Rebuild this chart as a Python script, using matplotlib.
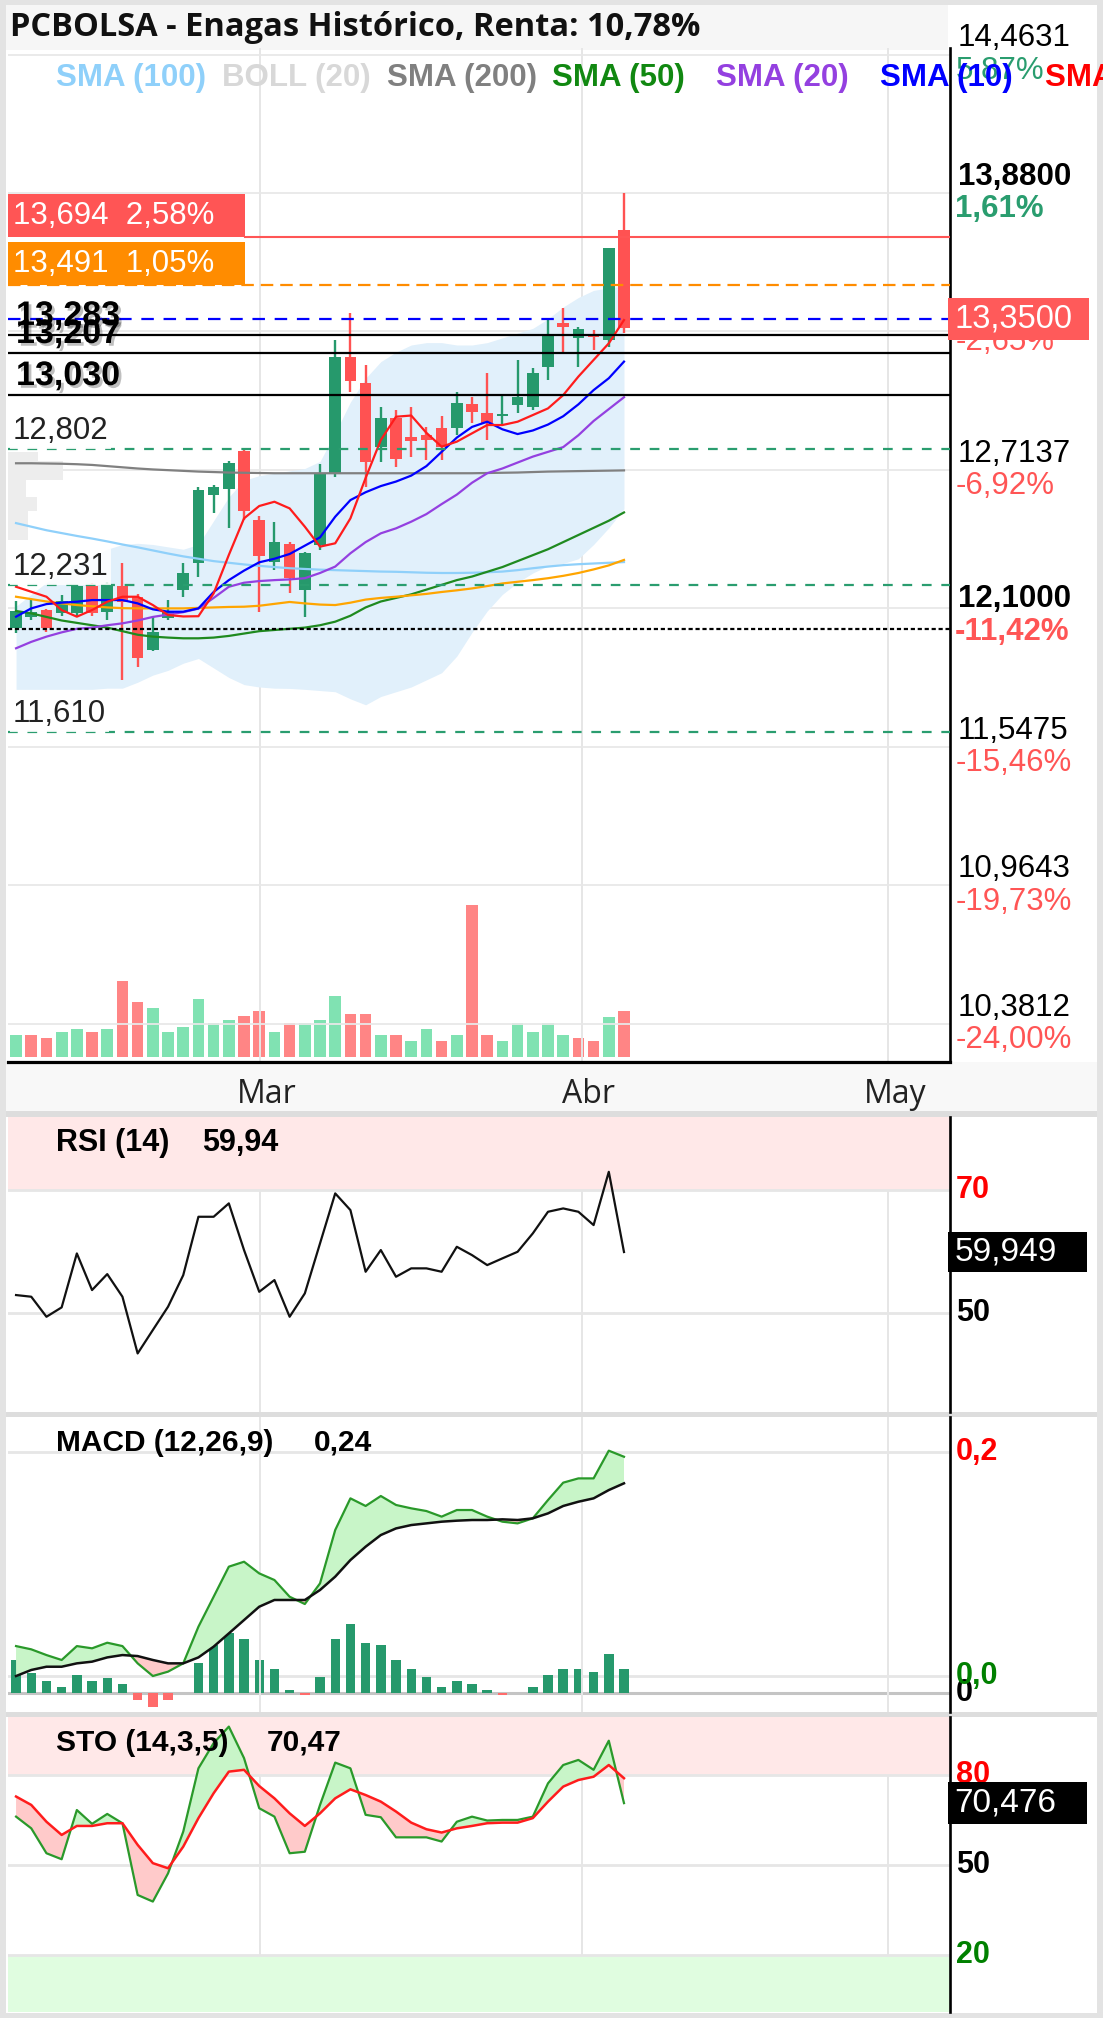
import matplotlib
matplotlib.use("Agg")
import matplotlib.pyplot as plt
import matplotlib.patheffects as pe
import matplotlib.transforms as mtransforms
from matplotlib.patches import Rectangle
import numpy as np

plt.rcParams['lines.scale_dashes'] = False

# ---------------- datos ----------------
opens = [12.047, 12.095, 12.124, 12.110, 12.110, 12.227, 12.117, 12.227, 12.180, 11.956,
         12.089, 12.208, 12.321, 12.608, 12.632, 12.794, 12.503, 12.328, 12.401, 12.208,
         12.398, 12.700, 13.188, 13.081, 12.812, 12.931, 12.854, 12.861, 12.892, 12.889,
         12.991, 12.955, 12.940, 12.987, 12.980, 13.149, 13.334, 13.268, 13.286, 13.261,
         13.724]
highs = [12.160, 12.166, 12.130, 12.187, 12.235, 12.237, 12.240, 12.321, 12.190, 12.096,
         12.166, 12.321, 12.640, 12.650, 12.750, 12.800, 12.520, 12.496, 12.410, 12.370,
         12.739, 13.261, 13.373, 13.156, 12.980, 12.966, 12.980, 12.896, 12.940, 13.043,
         13.022, 13.121, 13.025, 13.177, 13.142, 13.345, 13.394, 13.317, 13.303, 13.650,
         13.879]
lows = [12.026, 12.082, 12.030, 12.100, 12.100, 12.100, 12.082, 11.830, 11.886, 11.950,
        12.082, 12.180, 12.265, 12.531, 12.468, 12.503, 12.117, 12.293, 12.194, 12.096,
        12.377, 12.686, 13.044, 12.644, 12.749, 12.728, 12.770, 12.756, 12.756, 12.861,
        12.910, 12.840, 12.903, 12.952, 12.966, 13.093, 13.205, 13.149, 13.219, 13.233,
        13.290]
closes = [12.121, 12.115, 12.047, 12.160, 12.227, 12.110, 12.232, 12.159, 11.921, 12.033,
          12.117, 12.279, 12.630, 12.641, 12.742, 12.542, 12.352, 12.412, 12.260, 12.363,
          12.700, 13.191, 13.090, 12.746, 12.931, 12.760, 12.837, 12.840, 12.812, 12.994,
          12.959, 12.913, 12.950, 13.020, 13.121, 13.282, 13.317, 13.307, 13.275, 13.650,
          13.310]
# volumen en millones
volume = [1.30, 1.30, 1.10, 1.46, 1.66, 1.46, 1.66, 4.50, 3.26, 2.90,
          1.46, 1.80, 3.46, 2.00, 2.20, 2.40, 2.74, 1.46, 2.00, 2.00,
          2.20, 3.64, 2.54, 2.54, 1.30, 1.30, 0.94, 1.66, 0.94, 1.30,
          9.00, 1.30, 0.94, 2.00, 1.46, 2.00, 1.30, 1.10, 0.94, 2.36,
          2.74]

sma5 = [12.222, 12.201, 12.180, 12.124, 12.096, 12.124, 12.159, 12.180, 12.180, 12.145,
        12.103, 12.097, 12.098, 12.194, 12.356, 12.510, 12.562, 12.580, 12.552, 12.475,
        12.391, 12.405, 12.510, 12.680, 12.840, 12.938, 12.943, 12.870, 12.812, 12.833,
        12.868, 12.903, 12.903, 12.917, 12.945, 12.973, 13.029, 13.107, 13.177, 13.247,
        13.345]
sma10 = [12.096, 12.131, 12.149, 12.155, 12.159, 12.166, 12.166, 12.166, 12.152, 12.127,
         12.117, 12.117, 12.131, 12.200, 12.250, 12.290, 12.325, 12.340, 12.360, 12.395,
         12.430, 12.517, 12.587, 12.620, 12.646, 12.665, 12.690, 12.730, 12.790, 12.850,
         12.895, 12.917, 12.885, 12.865, 12.880, 12.905, 12.940, 12.990, 13.050, 13.100,
         13.170]
sma20 = [11.963, 11.990, 12.012, 12.030, 12.045, 12.050, 12.060, 12.068, 12.080, 12.095,
         12.105, 12.115, 12.130, 12.175, 12.222, 12.239, 12.246, 12.250, 12.253, 12.258,
         12.280, 12.307, 12.363, 12.410, 12.447, 12.468, 12.496, 12.528, 12.570, 12.610,
         12.660, 12.700, 12.720, 12.745, 12.770, 12.790, 12.810, 12.860, 12.920, 12.970,
         13.020]
sma50 = [12.120, 12.110, 12.095, 12.080, 12.070, 12.060, 12.050, 12.035, 12.020, 12.012,
         12.008, 12.005, 12.005, 12.008, 12.015, 12.025, 12.035, 12.040, 12.045, 12.050,
         12.060, 12.075, 12.100, 12.135, 12.160, 12.175, 12.190, 12.210, 12.230, 12.250,
         12.265, 12.285, 12.305, 12.330, 12.355, 12.380, 12.410, 12.440, 12.470, 12.500,
         12.535]
sma100 = [12.490, 12.475, 12.460, 12.448, 12.436, 12.425, 12.413, 12.400, 12.388, 12.375,
          12.362, 12.350, 12.340, 12.330, 12.323, 12.316, 12.310, 12.305, 12.300, 12.297,
          12.294, 12.292, 12.290, 12.288, 12.286, 12.285, 12.283, 12.281, 12.280, 12.280,
          12.281, 12.283, 12.286, 12.292, 12.300, 12.307, 12.313, 12.317, 12.320, 12.323,
          12.326]
sma200 = [12.742, 12.742, 12.741, 12.740, 12.738, 12.735, 12.730, 12.725, 12.720, 12.716,
          12.713, 12.710, 12.707, 12.705, 12.703, 12.702, 12.701, 12.700, 12.700, 12.700,
          12.700, 12.700, 12.700, 12.700, 12.700, 12.700, 12.700, 12.700, 12.700, 12.700,
          12.700, 12.701, 12.702, 12.703, 12.705, 12.707, 12.708, 12.709, 12.710, 12.711,
          12.712]
ma_orange = [12.180, 12.170, 12.160, 12.152, 12.145, 12.140, 12.135, 12.132, 12.131, 12.131,
             12.131, 12.131, 12.133, 12.135, 12.137, 12.138, 12.142, 12.150, 12.158, 12.152,
             12.147, 12.145, 12.155, 12.168, 12.175, 12.180, 12.186, 12.192, 12.200, 12.207,
             12.215, 12.225, 12.236, 12.243, 12.250, 12.258, 12.268, 12.280, 12.295, 12.312,
             12.335]
boll_up = [12.14, 12.19, 12.24, 12.28, 12.32, 12.35, 12.38, 12.40, 12.405, 12.40,
           12.39, 12.38, 12.40, 12.50, 12.60, 12.67, 12.69, 12.70, 12.71, 12.72,
           12.75, 12.87, 13.00, 13.10, 13.17, 13.21, 13.24, 13.25, 13.25, 13.24,
           13.24, 13.25, 13.27, 13.29, 13.31, 13.35, 13.40, 13.44, 13.47, 13.48,
           13.49]
boll_low = [11.79, 11.79, 11.79, 11.79, 11.79, 11.79, 11.795, 11.795, 11.82, 11.85,
            11.87, 11.90, 11.92, 11.88, 11.84, 11.81, 11.80, 11.795, 11.794, 11.79,
            11.785, 11.78, 11.75, 11.725, 11.76, 11.78, 11.80, 11.83, 11.86, 11.93,
            12.03, 12.12, 12.19, 12.24, 12.28, 12.31, 12.32, 12.34, 12.40, 12.47,
            12.55]

# perfil de volumen (gris a la izquierda)
vp_lo = [12.75, 12.67, 12.60, 12.54, 12.42]
vp_hi = [12.79, 12.75, 12.67, 12.60, 12.54]
vp_len = [2.0, 3.6, 1.2, 1.9, 1.3]

rsi = [52.97, 52.70, 49.45, 50.97, 59.72, 53.78, 56.37, 52.70, 43.50, 47.30,
       51.08, 56.20, 65.67, 65.67, 67.84, 60.27, 53.50, 55.40, 49.45, 53.24,
       61.35, 69.46, 66.75, 56.75, 60.27, 55.94, 57.30, 57.30, 56.75, 60.80,
       59.45, 57.83, 58.92, 59.99, 62.97, 66.48, 67.02, 66.48, 64.32, 72.96,
       59.95]
macd = [0.0267, 0.0238, 0.0187, 0.0143, 0.0267, 0.0247, 0.0297, 0.0267, 0.0113, 0.0000,
        0.0039, 0.0113, 0.0440, 0.0707, 0.0975, 0.1019, 0.0915, 0.0856, 0.0707, 0.0642,
        0.0826, 0.1302, 0.1584, 0.1516, 0.1605, 0.1525, 0.1495, 0.1471, 0.1421, 0.1480,
        0.1480, 0.1421, 0.1376, 0.1361, 0.1406, 0.1569, 0.1724, 0.1762, 0.1762, 0.2009,
        0.1955]
signal = [0.0000, 0.0054, 0.0083, 0.0083, 0.0113, 0.0128, 0.0166, 0.0187, 0.0178, 0.0143,
          0.0113, 0.0113, 0.0166, 0.0262, 0.0380, 0.0499, 0.0618, 0.0678, 0.0678, 0.0678,
          0.0767, 0.0886, 0.1034, 0.1153, 0.1257, 0.1316, 0.1346, 0.1361, 0.1376, 0.1385,
          0.1391, 0.1391, 0.1397, 0.1391, 0.1406, 0.1450, 0.1516, 0.1554, 0.1584, 0.1658,
          0.1718]
hist = [0.0297, 0.0178, 0.0110, 0.0053, 0.0163, 0.0110, 0.0140, 0.0083, -0.0059, -0.0119,
        -0.0059, 0.0004, 0.0267, 0.0431, 0.0541, 0.0481, 0.0297, 0.0214, 0.0030, -0.0015,
        0.0143, 0.0481, 0.0618, 0.0452, 0.0431, 0.0297, 0.0214, 0.0143, 0.0059, 0.0110,
        0.0083, 0.0030, -0.0015, 0.0004, 0.0059, 0.0163, 0.0220, 0.0220, 0.0190, 0.0351,
        0.0220]
sto_k = [66.1, 62.2, 53.9, 51.9, 68.3, 63.7, 67.0, 63.9, 40.0, 37.8,
         47.2, 61.1, 82.2, 90.6, 96.1, 85.6, 68.9, 66.1, 53.9, 54.4,
         70.0, 84.1, 82.2, 66.7, 65.9, 59.2, 59.2, 59.2, 57.8, 64.4,
         66.1, 64.8, 65.0, 65.0, 66.1, 77.2, 83.3, 85.0, 81.7, 91.4,
         70.6]
sto_d = [72.8, 70.0, 64.4, 60.0, 63.0, 63.0, 63.9, 63.9, 56.7, 50.6,
         48.9, 56.1, 65.6, 73.9, 81.1, 81.7, 76.3, 72.2, 67.2, 63.0,
         67.2, 72.2, 75.2, 73.3, 71.1, 67.8, 64.1, 61.9, 60.8, 62.2,
         63.0, 63.9, 64.1, 64.1, 65.6, 71.1, 76.1, 78.3, 79.4, 83.3,
         78.9]

month_labels = ['Mar', 'Abr', 'May']
month_x = [16.05, 37.24, 57.37]

grid_prices = [14.4631, 13.88, 13.2969, 12.7137, 12.1306, 11.5475, 10.9643, 10.3812]
axis_vals = [14.4631, 13.88, 12.7137, 12.1, 11.5475, 10.9643, 10.3812]
axis_pcts = ['5,87%', '1,61%', '-6,92%', '-11,42%', '-15,46%', '-19,73%', '-24,00%']
last_price, last_pct = 13.35, '-2,65%'

target_red, target_red_txt = 13.694, '13,694  2,58%'
target_orange, target_orange_txt = 13.491, '13,491  1,05%'
black_levels = [13.283, 13.207, 13.030]
green_levels = [12.802, 12.231, 11.610]
dotted_level = 12.045

legend_names = ['SMA (100)', 'BOLL (20)', 'SMA (200)', 'SMA (50)', 'SMA (20)', 'SMA (10)', 'SMA (5)']
title = 'PCBOLSA - Enagas Histórico, Renta: 10,78%'
rsi_last, macd_last, sto_last = '59,94', '0,24', '70,47'
rsi_box, sto_box = '59,949', '70,476'


def fmt(v, nd):
    return f"{v:.{nd}f}".replace('.', ',')


# ---------------- figura ----------------
W, H = 1103, 2018
fig = plt.figure(figsize=(W / 100, H / 100), dpi=100)
fig.patch.set_facecolor('#e3e3e3')


def fx(px):
    return px / W


def fy(py):
    return 1 - py / H


def frect(x0, y0, x1, y1, color, z=-5):
    fig.patches.append(Rectangle((fx(x0), fy(y1)), fx(x1) - fx(x0), fy(y0) - fy(y1),
                                 transform=fig.transFigure, facecolor=color,
                                 edgecolor='none', zorder=z))


frect(6, 5, 1097, 2013, 'white', -10)
frect(6, 5, 948, 50, '#f6f6f6', -9)
frect(6, 1062, 1097, 1111, '#f8f8f8', -9)
for y0 in (1111, 1411.7, 1711.7):
    frect(6, y0, 1097, y0 + 5.5, '#dddddd', -8)

L, R = 8, 950
XMIN, XMAX = -0.53, 61.45
x = np.arange(len(closes))


def add_ax(top, bottom):
    return fig.add_axes([fx(L), fy(bottom), fx(R) - fx(L), fy(top) - fy(bottom)])


def style(a):
    a.set_xlim(XMIN, XMAX)
    for s in a.spines.values():
        s.set_visible(False)
    a.spines['right'].set_visible(True)
    a.spines['right'].set_color('black')
    a.spines['right'].set_linewidth(1.9)
    a.tick_params(left=False, right=False, labelleft=False, labelright=False,
                  bottom=False, labelbottom=False)
    for m in month_x:
        a.axvline(m, color='#e6e6e6', lw=1.4, zorder=0)


GREEN = '#26996c'
RED = '#ff5252'
TXT_GREEN = '#2a9d6f'
TXT_RED = '#ff5555'
LAB = 22.5

# ---------------- panel principal ----------------
ax = add_ax(48, 1062)
ax_v = ax.twinx()
style(ax)
ax_v.set_xlim(XMIN, XMAX)
for s in ax_v.spines.values():
    s.set_visible(False)
ax_v.tick_params(right=False, labelright=False)
ax.set_zorder(ax_v.get_zorder() + 1)
ax.patch.set_visible(False)
ax.spines['bottom'].set_visible(True)
ax.spines['bottom'].set_color('black')
ax.spines['bottom'].set_linewidth(2.3)
ax.set_ylim(10.221, 14.4905)

vol_colors = ['#80e2b2'] + ['#80e2b2' if closes[i] >= closes[i - 1] else '#ff8585'
                            for i in range(1, len(closes))]
ax_v.set_ylim(-0.3, 59.8)
ax_v.bar(x, volume, width=0.77, color=vol_colors, lw=0)

for g in grid_prices:
    ax.axhline(g, color='#e8e8e8', lw=1.3, zorder=0)

ax.barh([(a + b) / 2 for a, b in zip(vp_lo, vp_hi)], vp_len,
        height=[b - a for a, b in zip(vp_lo, vp_hi)], left=XMIN,
        color='#ededed', lw=0, zorder=0.5)

ax.fill_between(x, boll_low, boll_up, color='#e1f0fb', lw=0, zorder=1)

ma_styles = [(sma100, '#8fd0fa'), (sma200, '#808080'), (sma50, '#1f8a1f'),
             (ma_orange, '#ffa500'), (sma20, '#9440e0'), (sma10, '#0000ff'), (sma5, '#ff1c1c')]

up = [c >= o for o, c in zip(opens, closes)]
ccol = [GREEN if u else RED for u in up]
ax.vlines(x, lows, highs, colors=ccol, lw=1.7, zorder=3)
body_lo = np.minimum(opens, closes)
body_h = np.maximum(np.abs(np.subtract(closes, opens)), 0.007)
ax.bar(x, body_h, bottom=body_lo, width=0.77, color=ccol, lw=0, zorder=3.1)

for vals, col in ma_styles:
    ax.plot(x, vals, color=col, lw=1.6, zorder=4)

blend = mtransforms.blended_transform_factory(ax.transAxes, ax.transData)
box_w = (245 - L) / (R - L)
box_h = 43 / 237.5

# objetivos (cajas roja y naranja)
ax.axhline(target_red, xmin=box_w, xmax=1, color=TXT_RED, lw=1.5, zorder=5)
ax.axhline(target_orange, color='#ff8c00', lw=1.6, dashes=(9, 5), zorder=5)
for val, txt, col in [(target_red, target_red_txt, '#ff5555'),
                      (target_orange, target_orange_txt, '#ff8c00')]:
    ax.add_patch(Rectangle((0, val), box_w, box_h, transform=blend,
                           facecolor=col, edgecolor='none', zorder=6))
    ax.text(0.005, val + box_h / 2, txt, transform=blend, color='white',
            fontsize=22.5, family='Liberation Sans', va='center', ha='left', zorder=7)

ax.axhline(last_price, color='#0000ff', lw=1.6, dashes=(9, 7), zorder=5)
for lv in black_levels:
    ax.axhline(lv, color='black', lw=1.6, zorder=5)
    ax.text(0.0085, lv + 0.012, fmt(lv, 3), transform=blend, fontsize=24.5,
            weight='bold', family='Liberation Sans', va='bottom', zorder=7,
            path_effects=[pe.SimplePatchShadow(offset=(2, -2), alpha=0.25), pe.Normal()])
for lv in green_levels:
    ax.axhline(lv, color=TXT_GREEN, lw=1.6, dashes=(7, 7), zorder=5)
    ax.text(0.005, lv + 0.012, fmt(lv, 3), transform=blend, fontsize=22.5,
            family='Liberation Sans', color='#222222', va='bottom', zorder=7,
            bbox=dict(facecolor='white', edgecolor='none', alpha=0.85, pad=2))
ax.axhline(dotted_level, color='black', lw=1.6, dashes=(3, 2), zorder=5)

# etiquetas del eje derecho
bold_vals = {13.88, 12.1}
for val, pct in zip(axis_vals, axis_pcts):
    w = 'bold' if val in bold_vals else 'normal'
    ax.annotate(fmt(val, 4), (1.0085, val), xycoords=blend, xytext=(0, 1),
                textcoords='offset points', va='bottom', ha='left', fontsize=LAB,
                family='Liberation Sans', weight=w, annotation_clip=False)
    ax.annotate(pct, (1.0085, val), xycoords=blend, xytext=(-2, -1),
                textcoords='offset points', va='top', ha='left', fontsize=LAB,
                family='Liberation Sans', weight=w,
                color=TXT_RED if pct.startswith('-') else TXT_GREEN, annotation_clip=False)

ax.annotate(last_pct, (1.0085, last_price), xycoords=blend, xytext=(-2, -6),
            textcoords='offset points', va='top', ha='left', fontsize=LAB,
            family='Liberation Sans', color=TXT_RED, annotation_clip=False)
ax.add_patch(Rectangle((0.998, last_price - 0.09), 0.15, 0.177, transform=blend,
                       facecolor='#ff5a5a', edgecolor='none', clip_on=False, zorder=8))
ax.text(1.005, last_price - 0.001, fmt(last_price, 4), transform=blend, color='white',
        fontsize=23.5, family='Liberation Sans', va='center', ha='left', zorder=9, clip_on=False)

ax.set_xticks(month_x, month_labels)
ax.tick_params(bottom=False, labelbottom=True, pad=8)
shift = mtransforms.ScaledTranslation(5 / 72, 0, fig.dpi_scale_trans)
for t in ax.get_xticklabels():
    t.set_fontfamily('Open Sans')
    t.set_fontsize(23)
    t.set_color('#222222')
    t.set_transform(t.get_transform() + shift)

# titulo y leyenda
fig.text(fx(10), fy(27), title, fontsize=23.5, family='Open Sans', weight='bold',
         va='center', ha='left', color='#111111')
legend_x = [56, 222, 387, 552, 716, 880, 1045]
legend_cols = ['#8fd0fa', '#d8d8d8', '#808080', '#118811', '#9440e0', '#0000ff', '#ff0000']
for lx, name, col in zip(legend_x, legend_names, legend_cols):
    fig.text(fx(lx), fy(78), name, fontsize=22.5, family='Liberation Sans', weight='bold',
             color=col, va='center', ha='left')

# ---------------- RSI ----------------
ax_r = add_ax(1116.7, 1411.7)
style(ax_r)
ax_r.set_ylim(34.05, 81.9)
ax_r.axhspan(70, 81.9, color='#ffe8e8', lw=0, zorder=0)
for g in (70, 50):
    ax_r.axhline(g, color='#e6e6e6', lw=2, zorder=0.5)
ax_r.plot(x, rsi, color='#111111', lw=1.6, zorder=3)
rb = mtransforms.blended_transform_factory(ax_r.transAxes, ax_r.transData)
ax_r.text(0.051, 1 - 26 / 295, 'RSI (14)', transform=ax_r.transAxes, fontsize=22,
          weight='bold', family='Liberation Sans', va='center')
ax_r.text(0.206, 1 - 26 / 295, rsi_last, transform=ax_r.transAxes, fontsize=22,
          weight='bold', family='Liberation Sans', va='center')
ax_r.text(1.006, 70, '70', transform=rb, color='#ff0000', fontsize=22, weight='bold',
          family='Liberation Sans', va='center', clip_on=False)
ax_r.text(1.006, 50, '50', transform=rb, color='black', fontsize=22, weight='bold',
          family='Liberation Sans', va='center', clip_on=False)
ax_r.add_patch(Rectangle((0.998, rsi[-1] - 3.25), 0.147, 6.5, transform=rb,
                         facecolor='black', edgecolor='none', clip_on=False, zorder=8))
ax_r.text(1.005, rsi[-1], rsi_box, transform=rb, color='white', fontsize=24,
          family='Liberation Sans', va='center', zorder=9, clip_on=False)

# ---------------- MACD ----------------
ax_m = add_ax(1416.7, 1711.7)
ax_h = ax_m.twinx()
style(ax_m)
ax_h.set_xlim(XMIN, XMAX)
for s in ax_h.spines.values():
    s.set_visible(False)
ax_h.tick_params(right=False, labelright=False)
ax_m.set_zorder(ax_h.get_zorder() + 1)
ax_m.patch.set_visible(False)
ax_m.set_ylim(-0.0318, 0.2312)
ax_h.set_ylim(-0.0164, 0.2466)
for g in (0.2, 0.0):
    ax_h.axhline(g + 0.0154, color='#e6e6e6', lw=2, zorder=0)
ax_h.axhline(0, color='#c4c4c4', lw=2.2, zorder=0.5)
ax_h.bar(x, hist, width=0.62, color=[GREEN if h >= 0 else '#ff6b6b' for h in hist],
         lw=0, zorder=1)
mm = np.array(macd)
ss = np.array(signal)
ax_m.fill_between(x, mm, ss, where=mm >= ss, interpolate=True, color='#c8f5c8', lw=0, zorder=1)
ax_m.fill_between(x, mm, ss, where=mm < ss, interpolate=True, color='#ffcaca', lw=0, zorder=1)
ax_m.plot(x, macd, color='#2a992a', lw=1.6, zorder=3)
ax_m.plot(x, signal, color='#111111', lw=1.8, zorder=3)
mb = mtransforms.blended_transform_factory(ax_m.transAxes, ax_m.transData)
ax_m.text(0.051, 1 - 26 / 295, 'MACD (12,26,9)', transform=ax_m.transAxes, fontsize=21.5,
          weight='bold', family='Liberation Sans', va='center')
ax_m.text(0.325, 1 - 26 / 295, macd_last, transform=ax_m.transAxes, fontsize=21.5,
          weight='bold', family='Liberation Sans', va='center')
ax_m.text(1.006, 0.2, '0,2', transform=mb, color='#ff0000', fontsize=22, weight='bold',
          family='Liberation Sans', va='center', clip_on=False)
ax_m.text(1.006, -0.0154, '0', transform=mb, color='black', fontsize=22, weight='bold',
          family='Liberation Sans', va='center', clip_on=False)
ax_m.text(1.006, 0.0, '0,0', transform=mb, color='#008000', fontsize=22, weight='bold',
          family='Liberation Sans', va='center', clip_on=False)

# ---------------- Estocastico ----------------
ax_s = add_ax(1716.7, 2011.7)
style(ax_s)
ax_s.set_ylim(1.1, 99.4)
ax_s.axhspan(80, 99.4, color='#ffe8e8', lw=0, zorder=0)
ax_s.axhspan(1.1, 20, color='#e0fde0', lw=0, zorder=0)
for g in (80, 50, 20):
    ax_s.axhline(g, color='#e6e6e6', lw=2, zorder=0.5)
kk = np.array(sto_k)
dd = np.array(sto_d)
ax_s.fill_between(x, kk, dd, where=kk >= dd, interpolate=True, color='#c8f5c8', lw=0, zorder=1)
ax_s.fill_between(x, kk, dd, where=kk < dd, interpolate=True, color='#ffcaca', lw=0, zorder=1)
ax_s.plot(x, sto_k, color='#2a992a', lw=1.6, zorder=3)
ax_s.plot(x, sto_d, color='#ff1c1c', lw=1.8, zorder=3)
sb = mtransforms.blended_transform_factory(ax_s.transAxes, ax_s.transData)
ax_s.text(0.051, 1 - 26 / 295, 'STO (14,3,5)', transform=ax_s.transAxes, fontsize=21.5,
          weight='bold', family='Liberation Sans', va='center', zorder=6)
ax_s.text(0.275, 1 - 26 / 295, sto_last, transform=ax_s.transAxes, fontsize=21.5,
          weight='bold', family='Liberation Sans', va='center', zorder=6)
for val, col in ((80, '#ff0000'), (50, 'black'), (20, '#008000')):
    ax_s.text(1.006, val, str(val), transform=sb, color=col, fontsize=22, weight='bold',
              family='Liberation Sans', va='center', clip_on=False)
ax_s.add_patch(Rectangle((0.998, sto_k[-1] - 7), 0.147, 14, transform=sb,
                         facecolor='black', edgecolor='none', clip_on=False, zorder=8))
ax_s.text(1.005, sto_k[-1], sto_box, transform=sb, color='white', fontsize=24,
          family='Liberation Sans', va='center', zorder=9, clip_on=False)

fig.savefig('out.png', dpi=100)
